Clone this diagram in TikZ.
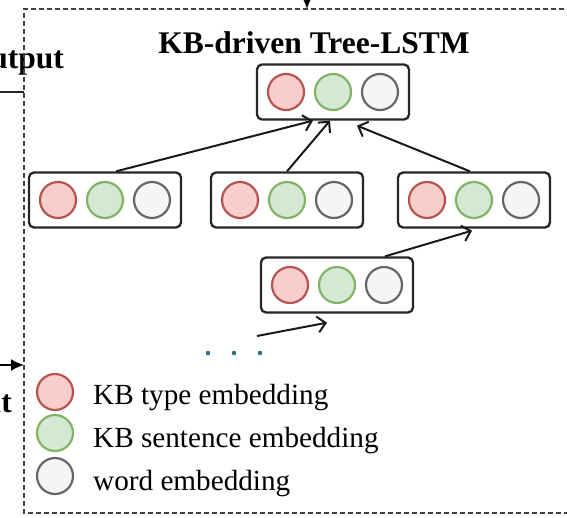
\documentclass[tikz,border=0pt]{standalone}
\usepackage{fontspec}
\setmainfont{Liberation Serif}
\usetikzlibrary{arrows.meta,calc}

\definecolor{typefill}{HTML}{F8CECC}
\definecolor{typedraw}{HTML}{B85450}
\definecolor{sentfill}{HTML}{D5E8D4}
\definecolor{sentdraw}{HTML}{82B366}
\definecolor{wordfill}{HTML}{F5F5F5}
\definecolor{worddraw}{HTML}{666666}
\definecolor{dotcol}{HTML}{2A7482}

\tikzset{
  cellbox/.style={draw=black!85, line width=2.3pt, rounded corners=5pt,
    minimum width=152pt, minimum height=55pt, inner sep=0pt},
  emb/.style={circle, minimum size=36pt, inner sep=0pt, line width=2.2pt},
  kbtype/.style={emb, draw=typedraw, fill=typefill},
  kbsent/.style={emb, draw=sentdraw, fill=sentfill},
  wordemb/.style={emb, draw=worddraw, fill=wordfill},
  flow/.style={line width=2pt, draw=black!90,
    -{Straight Barb[length=8pt,width=16pt,line width=2pt]}},
  feed/.style={line width=2pt, -{Latex[length=13pt,width=12pt]}},
  frame/.style={dash pattern=on 5pt off 3pt, line width=2.2pt, draw=black!75},
  legendtext/.style={font=\fontsize{29.2}{35}\selectfont, anchor=base west, inner sep=0pt},
  heading/.style={font=\fontsize{31.5}{38}\selectfont\bfseries, inner sep=0pt},
  sidelabel/.style={font=\fontsize{31.5}{38}\selectfont\bfseries, inner sep=0pt, anchor=base east},
}

% one Tree-LSTM cell: frame box with type, sentence and word embeddings
\newcommand\lstmcell[3]{%
  \node[cellbox] (#1) at (#2,#3) {};
  \node[kbtype]  (#1-t) at ($(#1)+(-47,0)$) {};
  \node[kbsent]  (#1-s) at (#1) {};
  \node[wordemb] (#1-w) at ($(#1)+(47,0)$) {};
}

\begin{document}
\begin{tikzpicture}[x=1pt, y=-1pt]
  \useasboundingbox (0,0) rectangle (567,517);

  % side labels of the surrounding pipeline
  \node[sidelabel] (outlbl) at (64,68) {Output};
  \node[sidelabel] (inlbl) at (12,412) {Input};

  % module frame
  \draw[frame] (620,9) -- (24,9) -- (24,513) -- (620,513);

  % title
  \node[heading, anchor=base] (title) at (314,53) {KB-driven Tree-LSTM};

  % cells
  \lstmcell{root}{333}{92}
  \lstmcell{left}{105}{200}
  \lstmcell{mid}{287}{200}
  \lstmcell{right}{474}{200}
  \lstmcell{low}{337}{285}

  % child-to-parent connections
  \draw[flow] ([xshift=11pt]left.north) -- ([xshift=-20pt]root.south);
  \draw[flow] (mid.north) -- ([xshift=-3pt]root.south);
  \draw[flow] ([xshift=-4pt]right.north) -- ([xshift=24pt,yshift=-5pt]root.south);
  \draw[flow] ([xshift=48pt]low.north) -- ([xshift=-2pt,yshift=-2pt]right.south);

  % incoming branch from further below
  \coordinate (below) at (257,336);
  \draw[flow] (below) -- ([xshift=-10pt,yshift=-9pt]low.south);
  \foreach \px in {208,234,260}
    \fill[dotcol] (\px,353) circle (2.3pt);

  % connections crossing the frame
  \coordinate (outend) at (0,92);
  \coordinate (outstart) at (24,92);
  \draw[line width=2pt, draw=black!85] (outstart) -- (outend);
  \coordinate (inbeg) at (-5,365);
  \coordinate (inend) at (24,365);
  \draw[feed] (inbeg) -- (inend);
  \coordinate (topbeg) at (307,-30);
  \coordinate (topend) at (307,9);
  \draw[feed] (topbeg) -- (topend);

  % legend
  \node[kbtype]  (lg-t) at (55,392) {};
  \node[kbsent]  (lg-s) at (55,433) {};
  \node[wordemb] (lg-w) at (55,476) {};
  \node[legendtext] (lt-t) at (93,404) {KB type embedding};
  \node[legendtext] (lt-s) at (93,447) {KB sentence embedding};
  \node[legendtext] (lt-w) at (93,490) {word embedding};
\end{tikzpicture}
\end{document}
